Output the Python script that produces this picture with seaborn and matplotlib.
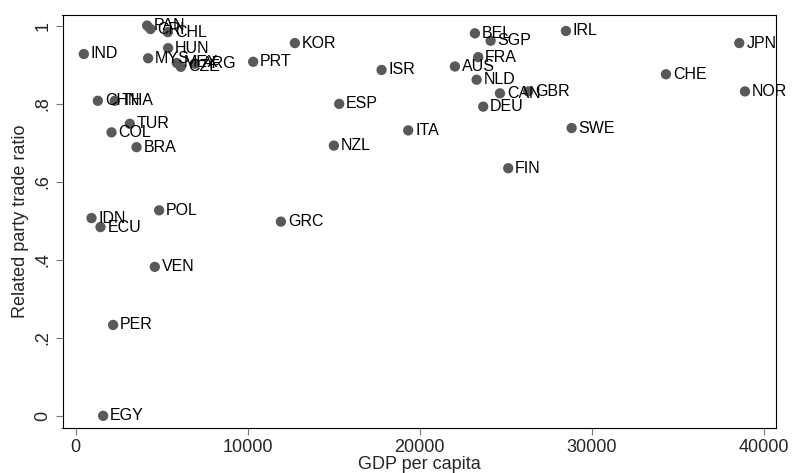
import matplotlib
matplotlib.use("Agg")
import matplotlib.pyplot as plt
import seaborn as sns
import pandas as pd

countries = ["IND", "PAN", "CRI", "CHL", "HUN", "MYS", "MEX", "CZE", "ARG", "PRT",
             "KOR", "CHN", "THA", "TUR", "COL", "BRA", "POL", "IDN", "ECU", "GRC",
             "VEN", "PER", "EGY", "BEL", "SGP", "FRA", "AUS", "NLD", "CAN", "GBR",
             "DEU", "ISR", "ESP", "ITA", "NZL", "FIN", "SWE", "IRL", "JPN", "CHE", "NOR"]
gdp_per_capita = [483, 4163, 4360, 5366, 5384, 4221, 5890, 6122, 6936, 10326,
                  12750, 1297, 2285, 3157, 2093, 3547, 4861, 930, 1453, 11936,
                  4610, 2186, 1605, 23215, 24128, 23408, 22052, 23315, 24670, 26314,
                  23698, 17791, 15327, 19337, 15018, 25152, 28837, 28506, 38581, 34321, 38913]
related_party_ratio = [0.928, 1.001, 0.992, 0.984, 0.943, 0.917, 0.905, 0.895, 0.903, 0.908,
                       0.956, 0.808, 0.808, 0.749, 0.727, 0.689, 0.527, 0.507, 0.484, 0.498,
                       0.382, 0.233, 0.0, 0.981, 0.962, 0.920, 0.896, 0.862, 0.827, 0.832,
                       0.793, 0.887, 0.800, 0.732, 0.693, 0.635, 0.738, 0.987, 0.956, 0.876, 0.832]
x_ticks = [0, 10000, 20000, 30000, 40000]
y_ticks = [0, 0.2, 0.4, 0.6, 0.8, 1.0]
y_tick_labels = ["0", ".2", ".4", ".6", ".8", "1"]

df = pd.DataFrame({"country": countries, "gdp": gdp_per_capita, "ratio": related_party_ratio})

sns.set_style("white")
plt.rcParams["font.family"] = ["Liberation Sans", "DejaVu Sans"]

fig = plt.figure(figsize=(7.95, 4.73), dpi=100)
ax = fig.add_axes([62.5 / 795, 1 - 427.5 / 473, (776 - 62.5) / 795, (427.5 - 15) / 473])

sns.scatterplot(data=df, x="gdp", y="ratio", ax=ax, color="#595959", s=55,
                edgecolor="none", linewidth=0, zorder=3)

for c, xv, yv in zip(df["country"], df["gdp"], df["ratio"]):
    ax.annotate(c, (xv, yv), xytext=(5, 0), textcoords="offset points",
                ha="left", va="center", fontsize=11.5, color="black", zorder=4)

ax.set_xlim(-756, 40716)
ax.set_ylim(-0.030, 1.028)
ax.set_xticks(x_ticks)
ax.set_xticklabels([str(t) for t in x_ticks], fontsize=13)
ax.set_yticks(y_ticks)
ax.set_yticklabels(y_tick_labels, fontsize=13, rotation=90, va="center")
ax.tick_params(axis="both", direction="out", length=5, width=0.8, color="#777777",
               left=True, bottom=True, pad=3)
ax.set_xlabel("GDP per capita", fontsize=13, labelpad=0)
ax.set_ylabel("Related party trade ratio", fontsize=13, labelpad=4)
for s in ax.spines.values():
    s.set_color("black")
    s.set_linewidth(0.8)
    s.set_visible(True)

fig.savefig("out.png", dpi=100, facecolor="white")
